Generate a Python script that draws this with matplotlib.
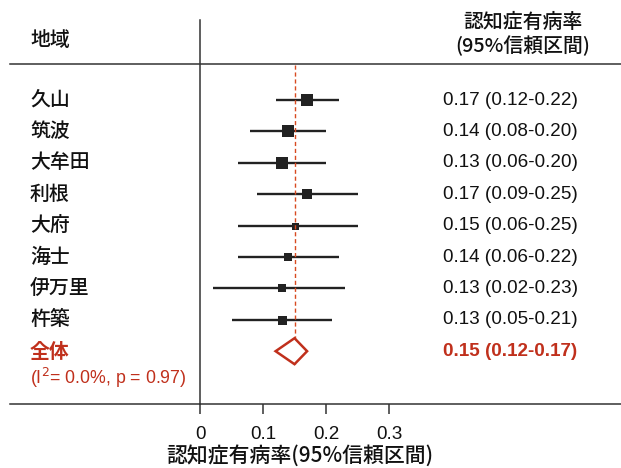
import matplotlib
matplotlib.use("Agg")
import matplotlib.pyplot as plt
from matplotlib.lines import Line2D
from matplotlib.patches import Polygon
import matplotlib.transforms as mtransforms

plt.rcParams['font.family'] = ['Noto Sans CJK JP', 'DejaVu Sans']

regions = ["久山", "筑波", "大牟田", "利根", "大府", "海士", "伊万里", "杵築"]
estimates = [0.17, 0.14, 0.13, 0.17, 0.15, 0.14, 0.13, 0.13]
lower = [0.12, 0.08, 0.06, 0.09, 0.06, 0.06, 0.02, 0.05]
upper = [0.22, 0.20, 0.20, 0.25, 0.25, 0.22, 0.23, 0.21]
weights = [12.3, 11.7, 11.5, 10, 7, 8.7, 7.3, 9]  # relative square size
overall_label = "全体"
overall_est = 0.15
overall_lo = 0.12
overall_hi = 0.17
het_text = "(I$^2$= 0.0%, p = 0.97)"
xticks = [0, 0.1, 0.2, 0.3]
xtick_labels = ["0", "0.1", "0.2", "0.3"]
header_left = "地域"
header_right_1 = "認知症有病率"
header_right_2 = "(95%信頼区間)"
xlabel = "認知症有病率(95%信頼区間)"

NUMFONT = ['Liberation Sans', 'DejaVu Sans']
CJK_SIZE = 14.3
NUM_SIZE = 13.6

W, H = 621, 468
fig = plt.figure(figsize=(W / 100, H / 100), dpi=100)

def fx(px):
    return px / W

def fy(py):
    return 1 - py / H

ax_left, ax_right, ax_top, ax_bot = 200, 621, 20, 404
ax = fig.add_axes([fx(ax_left), fy(ax_bot), fx(ax_right - ax_left), (ax_bot - ax_top) / H])
ax.set_xlim(0, (ax_right - ax_left) / 630)
row0, rowstep = 100, 31.4
ax.set_ylim((ax_bot - row0) / rowstep, (ax_top - row0) / rowstep)
for s in ["top", "right"]:
    ax.spines[s].set_visible(False)
for s in ["left", "bottom"]:
    ax.spines[s].set_linewidth(1.1)
    ax.spines[s].set_color("#333333")
ax.set_yticks([])
ax.set_xticks(xticks)
ax.set_xticklabels(xtick_labels, fontsize=NUM_SIZE, family=NUMFONT, color="#111111")
ax.tick_params(axis='x', direction='out', length=7, width=1.1, color="#333333", pad=8.5)

red = "#c0301c"

for i, (e, lo, hi, w) in enumerate(zip(estimates, lower, upper, weights)):
    ax.plot([lo, hi], [i, i], color="#222222", lw=1.7, solid_capstyle='butt', zorder=2)
    ax.plot([e], [i], marker='s', ms=w * 0.72, mew=0, color="#222222", zorder=3)

n = len(regions)
dh = 13 / rowstep
ax.add_patch(Polygon([[overall_lo, n], [overall_est, n - dh], [overall_hi, n], [overall_est, n + dh]],
                     closed=True, facecolor="white", edgecolor=red, lw=1.8, zorder=4))
ax.plot([overall_est, overall_est], [(65 - row0) / rowstep, n + dh], color="#d84a20",
        lw=1.0, linestyle=(0, (3, 2)), zorder=3)

tr_rows = mtransforms.blended_transform_factory(fig.transFigure, ax.transData)
for i, r in enumerate(regions):
    ax.text(fx(30), i, r, transform=tr_rows, fontsize=CJK_SIZE, va='center', ha='left',
            color="#111111", fontweight='medium')
    ax.text(fx(443), i, f"{estimates[i]:.2f} ({lower[i]:.2f}-{upper[i]:.2f})", transform=tr_rows,
            fontsize=NUM_SIZE, va='center', ha='left', color="#111111", family=NUMFONT)

ax.text(fx(30), n, overall_label, transform=tr_rows, fontsize=CJK_SIZE, va='center', ha='left',
        color=red, fontweight='bold')
ax.text(fx(443), n, f"{overall_est:.2f} ({overall_lo:.2f}-{overall_hi:.2f})", transform=tr_rows,
        fontsize=NUM_SIZE, va='center', ha='left', color=red, fontweight='bold', family=NUMFONT)
fig.text(fx(30), fy(378), het_text, fontsize=12.8, va='center', ha='left', color=red,
         family=NUMFONT)

fig.text(fx(30), fy(40), header_left, fontsize=CJK_SIZE, va='center', ha='left', color="#111111",
         fontweight='medium')
fig.text(fx(523), fy(22), header_right_1, fontsize=CJK_SIZE, va='center', ha='center', color="#111111",
         fontweight='medium')
fig.text(fx(523), fy(46), header_right_2, fontsize=CJK_SIZE, va='center', ha='center', color="#111111",
         fontweight='medium')

fig.text(fx(300), fy(456), xlabel, fontsize=15, va='center', ha='center', color="#111111",
         fontweight='medium')

fig.add_artist(Line2D([fx(10), fx(621)], [fy(64), fy(64)], color="#333333", lw=1.1))
fig.add_artist(Line2D([fx(10), fx(200)], [fy(404), fy(404)], color="#333333", lw=1.1))

fig.savefig("out.png", dpi=100, facecolor="white")
